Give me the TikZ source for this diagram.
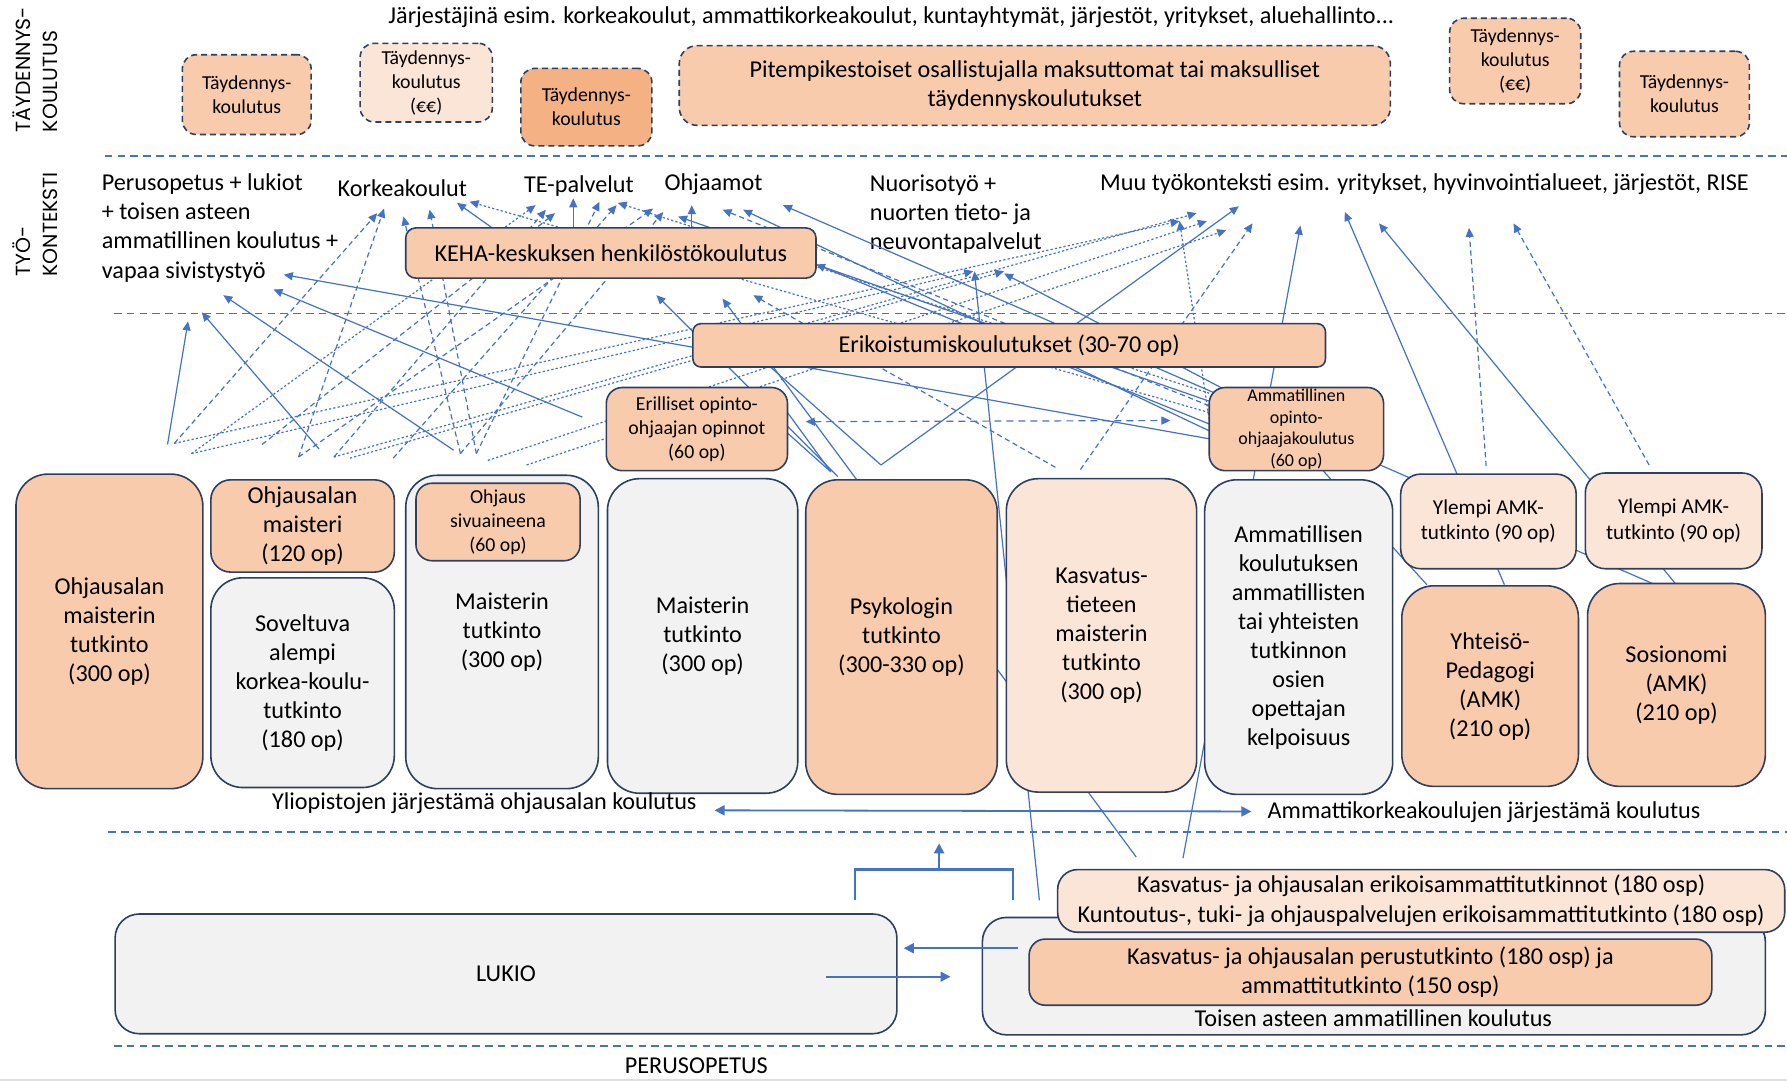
\documentclass[tikz,border=0pt]{standalone}
\usepackage{fontspec}
\setmainfont{Carlito}
\newfontfamily\gothic{Poppins}
\usetikzlibrary{arrows.meta}
\definecolor{lb}{HTML}{4472C4}
\definecolor{bd}{HTML}{2F3F5F}
\definecolor{orA}{HTML}{F8CBAD}
\definecolor{orB}{HTML}{FBE5D6}
\definecolor{orC}{HTML}{F4B183}
\definecolor{gr}{HTML}{F2F2F2}
\newcommand\fA{\fontsize{12.1}{14.5}\selectfont}
\newcommand\fB{\fontsize{9.9}{12}\selectfont}
\newcommand\fC{\fontsize{9}{10.8}\selectfont}
\newcommand\fD{\fontsize{10.6}{12.6}\selectfont}
\newcommand\fG{\gothic\fontsize{10.2}{13.5}\selectfont}
% box from corners: name, style, x1, y1, x2, y2, text
\newcommand\bx[7]{\node[#2, minimum width={(#5-#3)*0.57pt}, minimum height={(#6-#4)*0.57pt}] (#1) at ({(#3+#5)/2},{(#4+#6)/2}) {#7};}
\tikzset{
  box/.style={draw=bd, line width=0.8pt, rounded corners=12pt, inner sep=0pt, align=center, font=\fA},
  sbox/.style={box, rounded corners=5pt},
  dbox/.style={box, rounded corners=7pt, dash pattern=on 3pt off 2pt, font=\fB},
  sepl/.style={lb, line width=0.85pt, dash pattern=on 3.8pt off 2.6pt},
  sol/.style={lb, line width=0.6pt, -{Triangle[length=4.5pt,width=4pt]}},
  dsh/.style={sol, dash pattern=on 2.6pt off 1.8pt},
  dot/.style={sol, dash pattern=on 1.1pt off 1.1pt},
  pln/.style={lb, line width=0.6pt},
  lbl/.style={inner sep=0pt, font=\fA}
}
\begin{document}
\begin{tikzpicture}[x=0.57pt,y=-0.57pt]
\useasboundingbox (0,0) rectangle (1568,949);
\fill[white] (0,0) rectangle (1568,949);

% separators
\draw[sepl] (92,137) -- (1568,137);
\draw[sepl] (100,275) -- (1568,275);
\draw[sepl] (95,730) -- (1568,730);
\draw[sepl] (100,918) -- (1568,918);
\draw[black!12, line width=1pt] (0,948) -- (1568,948);

% side labels
\node[rotate=90, align=left, inner sep=0pt, font=\fG] (sideA) at (31,61) {TÄYDENNYS-\\KOULUTUS};
\node[rotate=90, align=left, inner sep=0pt, font=\fG, anchor=west] (sideB) at (31,243) {TYÖ-\\KONTEKSTI};

% top text
\node[lbl] (jarj) at (782,15) {Järjestäjinä esim. korkeakoulut, ammattikorkeakoulut, kuntayhtymät, järjestöt, yritykset, aluehallinto...};

% work context labels
\node[lbl, align=left, anchor=north west, font=\fontsize{12.1}{14.6}\selectfont] (wk1) at (89,152) {Perusopetus + lukiot\\+ toisen asteen\\ammatillinen koulutus +\\vapaa sivistystyö};
\node[lbl] (korkea) at (353,165) {Korkeakoulut};
\node[lbl] (tepalv) at (508,163) {TE-palvelut};
\node[lbl] (ohjaamot) at (626,162) {Ohjaamot};
\node[lbl, align=left, anchor=north west, font=\fontsize{12.1}{14.6}\selectfont] (nuoriso) at (763,153) {Nuorisotyö +\\nuorten tieto- ja\\neuvontapalvelut};
\node[lbl, anchor=west] (muu) at (965,162) {Muu työkonteksti esim. yritykset, hyvinvointialueet, järjestöt, RISE};

% ---------- connectors (drawn below boxes) ----------
\foreach \xa/\ya/\xb/\yb in {147/390/165/282, 280/394/177/274, 398/395/196/259, 511/366/240/254,
  1061/385/249/241, 432/200/401/178, 503/199/503/174, 607/199/607/180, 1061/378/652/184,
  1450/512/687/180, 912/790/855/238, 1075/342/881/240, 773/408/1087/181, 735/418/576/259,
  997/752/634/262, 1038/753/1141/198, 1320/513/1180/186, 1470/512/1210/196, 1061/352/595/190,
  1061/372/716/232}
  \draw[sol] (\xa,\ya) -- (\xb,\yb);
\foreach \xa/\ya/\xb/\yb in {773/408/676/322, 1160/412/1252/513, 691/362/729/414, 691/380/729/414}
  \draw[pln] (\xa,\ya) -- (\xb,\yb);
\foreach \xa/\ya/\xb/\yb in {153/389/331/187, 262/401/337/183, 262/401/573/183, 293/401/479/184,
  404/398/354/190, 404/398/582/186, 418/398/377/184, 418/398/526/177, 230/390/487/187,
  948/412/1099/196, 1304/409/1289/200, 1447/408/1328/196, 926/410/661/259, 1061/356/634/184,
  345/402/541/180}
  \draw[dsh] (\xa,\ya) -- (\xb,\yb);
\foreach \xa/\ya/\xb/\yb in {153/389/1035/194, 168/398/470/180, 168/398/854/238, 293/401/1050/187,
  307/402/881/238, 428/404/1059/194, 462/408/1076/202, 1061/362/412/177, 1061/345/542/178,
  1061/368/1035/194}
  \draw[dot] (\xa,\ya) -- (\xb,\yb);
\coordinate (hl) at (707,370);
\coordinate (hr) at (1027,369);
\draw[lb, line width=0.6pt, dash pattern=on 3.5pt off 2.5pt, {Triangle[length=4.5pt,width=4pt]}-{Triangle[length=4.5pt,width=4pt]}] (hl) -- (hr);

% ---------- top boxes ----------
\bx{t1}{dbox, fill=orA}{160}{48}{273}{118}{Täydennys-\\koulutus}
\bx{t2}{dbox, fill=orB}{316}{38}{432}{107}{Täydennys-\\koulutus\\(€€)}
\bx{t3}{dbox, fill=orC}{457}{60}{572}{128}{Täydennys-\\koulutus}
\bx{t4}{dbox, fill=orA, font=\fA, rounded corners=9pt}{596}{40}{1220}{110}{Pitempikestoiset osallistujalla maksuttomat tai maksulliset\\täydennyskoulutukset}
\bx{t5}{dbox, fill=orA}{1272}{16}{1387}{91}{Täydennys-\\koulutus\\(€€)}
\bx{t6}{dbox, fill=orA}{1421}{45}{1535}{120}{Täydennys-\\koulutus}

% ---------- middle boxes ----------
\bx{keha}{sbox, fill=orA}{356}{200}{716}{244}{KEHA-keskuksen henkilöstökoulutus}
\bx{erik}{sbox, fill=orA, rounded corners=4pt}{608}{284}{1163}{322}{Erikoistumiskoulutukset (30-70 op)}
\bx{erill}{sbox, fill=orA, rounded corners=8pt, font=\fB}{532}{340}{691}{413}{Erilliset opinto-\\ohjaajan opinnot\\(60 op)}
\bx{amop}{sbox, fill=orA, rounded corners=8pt, font=\fC}{1061}{340}{1214}{413}{Ammatillinen\\opinto-\\ohjaajakoulutus\\(60 op)}

% ---------- degree boxes ----------
\bx{b1}{box, fill=orA, rounded corners=16pt}{14}{416}{178}{692}{Ohjausalan\\maisterin\\tutkinto\\(300 op)}
\bx{b2}{box, fill=orA, rounded corners=10pt}{185}{421}{346}{502}{Ohjausalan\\maisteri\\(120 op)}
\bx{b3}{box, fill=gr, rounded corners=16pt}{185}{507}{346}{691}{Soveltuva\\alempi\\korkea-koulu-\\tutkinto\\(180 op)}
\bx{b4}{box, fill=gr, rounded corners=16pt}{356}{417}{525}{692}{Maisterin\\tutkinto\\(300 op)}
\bx{b4i}{box, fill=orA, rounded corners=8pt, font=\fB}{365}{424}{509}{492}{Ohjaus\\sivuaineena\\(60 op)}
\bx{b5}{box, fill=gr, rounded corners=16pt}{533}{420}{700}{696}{Maisterin\\tutkinto\\(300 op)}
\bx{b6}{box, fill=orA, rounded corners=16pt}{707}{421}{875}{697}{Psykologin\\tutkinto\\(300-330 op)}
\bx{b7}{box, fill=orB, rounded corners=16pt}{883}{420}{1050}{695}{Kasvatus-\\tieteen\\maisterin\\tutkinto\\(300 op)}
\bx{b8}{box, fill=gr, rounded corners=16pt}{1057}{421}{1222}{697}{Ammatillisen\\koulutuksen\\ammatillisten\\tai yhteisten\\tutkinnon\\osien\\opettajan\\kelpoisuus}
\bx{b9}{box, fill=orB, rounded corners=10pt, font=\fD}{1229}{416}{1383}{499}{Ylempi AMK-\\tutkinto (90 op)}
\bx{b10}{box, fill=orB, rounded corners=10pt, font=\fD}{1391}{415}{1546}{499}{Ylempi AMK-\\tutkinto (90 op)}
\bx{b11}{box, fill=orA, rounded corners=16pt}{1230}{514}{1385}{690}{Yhteisö-\\Pedagogi\\(AMK)\\(210 op)}
\bx{b12}{box, fill=orA, rounded corners=16pt}{1393}{512}{1549}{690}{Sosionomi\\(AMK)\\(210 op)}

% level labels
\node[lbl] (yliop) at (425,705) {Yliopistojen järjestämä ohjausalan koulutus};
\node[lbl, anchor=west] (amk) at (1112,713) {Ammattikorkeakoulujen järjestämä koulutus};
\coordinate (dal) at (627,711);
\coordinate (dar) at (1098,712);
\draw[lb, line width=0.9pt, {Triangle[length=5pt,width=5pt]}-{Triangle[length=5pt,width=5pt]}] (dal) -- (dar);

% ---------- second level ----------
\bx{toinen}{box, fill=gr, rounded corners=12pt}{862}{805}{1549}{908}{}
\node[lbl, anchor=base] (toilab) at (1205,901) {Toisen asteen ammatillinen koulutus};
\bx{eat}{box, fill=orB, rounded corners=10pt, font=\fontsize{12.1}{14.8}\selectfont}{928}{763}{1566}{818}{Kasvatus- ja ohjausalan erikoisammattitutkinnot (180 osp)\\Kuntoutus-, tuki- ja ohjauspalvelujen erikoisammattitutkinto (180 osp)}
\bx{perus}{box, fill=orA, rounded corners=8pt}{903}{824}{1502}{882}{Kasvatus- ja ohjausalan perustutkinto (180 osp) ja\\ammattitutkinto (150 osp)}
\bx{lukio}{box, fill=gr, rounded corners=12pt}{101}{802}{787}{907}{LUKIO}

% bracket and arrows between LUKIO and vocational
\coordinate (brL) at (750,790);
\coordinate (brR) at (889,790);
\coordinate (brM) at (824,763);
\coordinate (brT) at (824,740);
\draw[lb, line width=1.2pt] (brL) -- (750,763) -- (889,763) -- (brR);
\draw[lb, line width=1.2pt, -{Triangle[length=5pt,width=5pt]}] (brM) -- (brT);
\coordinate (a1s) at (893,832);
\coordinate (a1e) at (793,832);
\coordinate (a2s) at (725,857);
\coordinate (a2e) at (834,857);
\draw[lb, line width=0.8pt, -{Triangle[length=5pt,width=5pt]}] (a1s) -- (a1e);
\draw[lb, line width=0.8pt, -{Triangle[length=5pt,width=5pt]}] (a2s) -- (a2e);

\node[lbl] (perusop) at (611,935) {PERUSOPETUS};
\end{tikzpicture}
\end{document}
